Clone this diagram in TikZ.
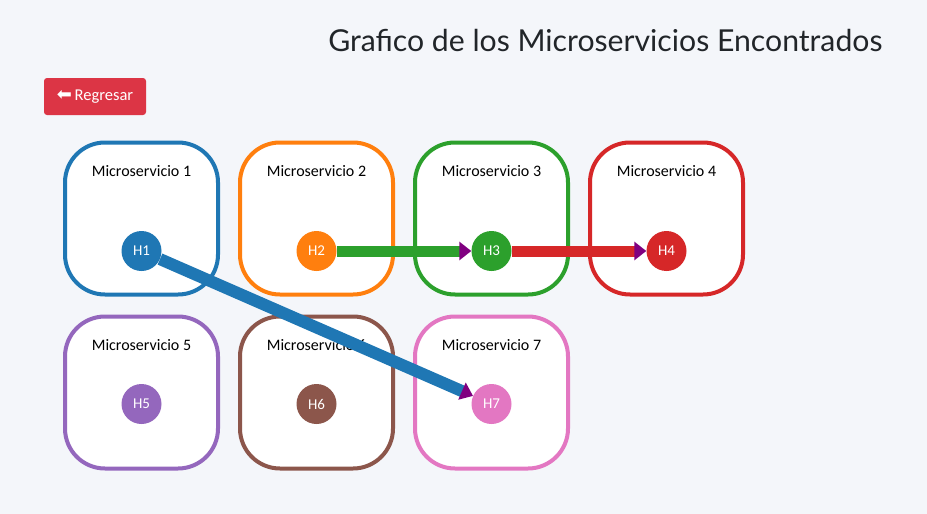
\documentclass[tikz,border=0pt]{standalone}
\usepackage{fontspec}
\setmainfont{Carlito}
\newfontfamily\titlefont{Lato}
\newfontfamily\symfont{DejaVu Sans}
\usetikzlibrary{positioning}
\usetikzlibrary{arrows.meta}
\definecolor{pagebg}{HTML}{F4F6FA}
\definecolor{cblue}{HTML}{1F77B4}
\definecolor{corange}{HTML}{FF7F0E}
\definecolor{cgreen}{HTML}{2CA02C}
\definecolor{cred}{HTML}{D62728}
\definecolor{cpurple}{HTML}{9467BD}
\definecolor{cbrown}{HTML}{8C564B}
\definecolor{cpink}{HTML}{E377C2}
\definecolor{btnred}{HTML}{DC3545}
\definecolor{tipcol}{HTML}{800080}
\definecolor{titlecol}{HTML}{212529}
\begin{document}
\begin{tikzpicture}[x=1pt, y=-1pt, node distance =175pt and 175pt, on grid,
    service/.style ={rectangle, rounded corners=40pt, fill=white, line width=4pt,
    minimum width=153pt, minimum height=152pt},
    host/.style ={circle, minimum size=40pt, inner sep=0pt, text=white,
    font=\fontsize{15}{17}\selectfont},
    caption/.style ={font=\fontsize{16}{18}\selectfont, text=black},
    link/.style ={line width=11pt, -{Triangle[length=12pt, width=18pt, color=tipcol]}}
    ]
    \fill[pagebg] (0,0) rectangle (927,514);
    \useasboundingbox (0,0) rectangle (927,514);
    % title and back button
    \node (title) [anchor=east, text=titlecol, font=\titlefont\fontsize{30.2}{33}\selectfont] at (886,40)
      {Grafico de los Microservicios Encontrados};
    \node (back) [fill=btnred, rounded corners=3pt, text=white, minimum width=102pt,
      minimum height=37pt, font=\fontsize{16.5}{18}\selectfont] at (95,96.5)
      {{\symfont\fontsize{18}{18}\selectfont ⬅}\,Regresar};
    % microservices
    \node (m1) [service, draw=cblue] at (141.5,218.5) {};
    \node (m2) [service, draw=corange, right = of m1] {};
    \node (m3) [service, draw=cgreen, right = of m2] {};
    \node (m4) [service, draw=cred, right = of m3] {};
    \node (m5) [service, draw=cpurple, below = 174pt of m1] {};
    \node (m6) [service, draw=cbrown, right = of m5] {};
    \node (m7) [service, draw=cpink, right = of m6] {};
    \node (t1) [caption, above = 47.5pt of m1] {Microservicio 1};
    \node (t2) [caption, above = 47.5pt of m2] {Microservicio 2};
    \node (t3) [caption, above = 47.5pt of m3] {Microservicio 3};
    \node (t4) [caption, above = 47.5pt of m4] {Microservicio 4};
    \node (t5) [caption, above = 47.5pt of m5] {Microservicio 5};
    \node (t6) [caption, above = 47.5pt of m6] {Microservicio 6};
    \node (t7) [caption, above = 47.5pt of m7] {Microservicio 7};
    % hosts
    \node (H1) [host, fill=cblue, below = 32.5pt of m1] {H1};
    \node (H2) [host, fill=corange, below = 32.5pt of m2] {H2};
    \node (H3) [host, fill=cgreen, below = 32.5pt of m3] {H3};
    \node (H4) [host, fill=cred, below = 32.5pt of m4] {H4};
    \node (H5) [host, fill=cpurple, below = 11.5pt of m5] {H5};
    \node (H6) [host, fill=cbrown, below = 11.5pt of m6] {H6};
    \node (H7) [host, fill=cpink, below = 11.5pt of m7] {H7};
    \draw[link, cblue, line width=12pt] (H1) -- (H7);
    \draw[link, cgreen] (H2) -- (H3);
    \draw[link, cred] (H3) -- (H4);
\end{tikzpicture}
\end{document}
